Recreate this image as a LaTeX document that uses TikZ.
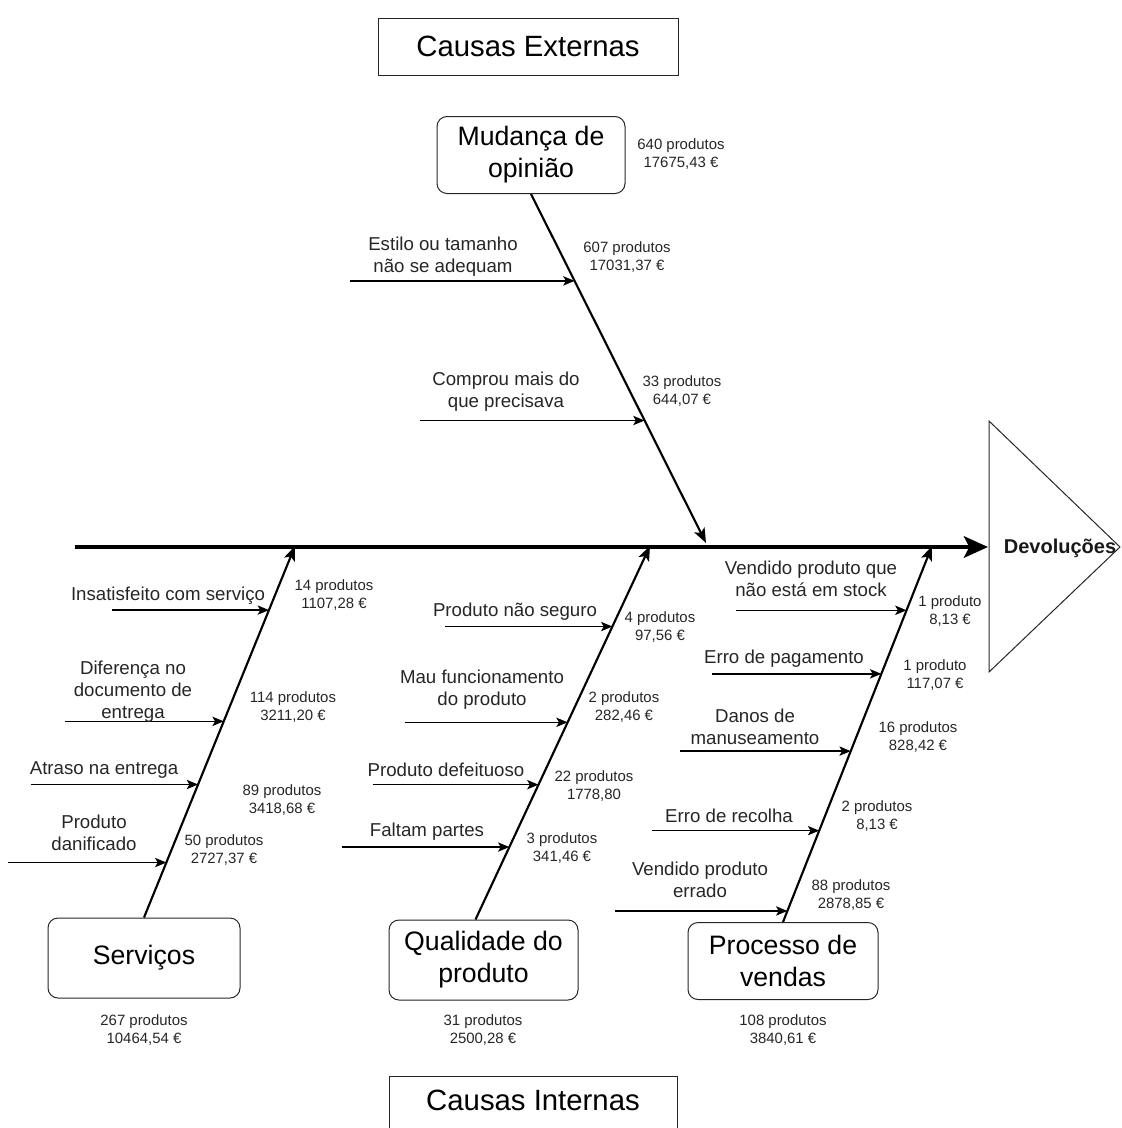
\documentclass[tikz,border=0pt]{standalone}
\usepackage{fontspec}
\setmainfont{Liberation Sans}
\usetikzlibrary{arrows.meta, calc}

\tikzset{
	grupo/.style = {draw=black!85, line width=0.75pt, rounded corners=7.5pt,
		align=center, inner sep=0pt, font=\fontsize{20}{24}\selectfont},
	causa/.style = {align=center, inner sep=0pt, text=black!85,
		font=\fontsize{14}{16.5}\selectfont},
	valor/.style = {align=center, inner sep=0pt, text=black!85,
		font=\fontsize{11.2}{13.5}\selectfont},
	ramo/.style = {line width=1pt, -{Stealth[length=8.5pt, width=7pt, inset=2pt]}},
	osso/.style = {line width=1.6pt, -{Stealth[length=11pt, width=8.5pt, inset=2.5pt]}},
	espinha/.style = {line width=3.3pt, -{Stealth[length=18pt, width=16pt, inset=4pt]}}
}

\begin{document}
\begin{tikzpicture}[x=0.75pt, y=-0.75pt]
\useasboundingbox (0,0) rectangle (1121,1128);

\node[grupo, rounded corners=0pt, minimum width=225pt, minimum height=42.75pt,
	font=\fontsize{22}{26}\selectfont]
	(ext) at (528,46.5) {Causas Externas};
\node[grupo, rounded corners=0pt, minimum width=216pt, minimum height=42pt]
	(int) at (533,1104) {};
\node[causa, text=black, font=\fontsize{22}{26}\selectfont]
	(intt) at (533,1100) {Causas Internas};

\node[grupo, minimum width=141pt, minimum height=57.75pt]
	(mud) at (531,155) {Mudança de\\opinião};
\node[grupo, minimum width=144pt, minimum height=60pt]
	(serv) at (144,958) {Serviços};
\node[grupo, minimum width=141.75pt, minimum height=60pt]
	(qual) at (483.5,960) {Qualidade do\\produto};
\node[grupo, minimum width=142.5pt, minimum height=57.75pt]
	(proc) at (783,961) {Processo de\\vendas};

\coordinate (cauda) at (75,547);
\coordinate (cabeca) at (988,547);
\draw[line width=0.75pt, black!85] (989,421) -- (1120,547) -- (989,672) -- cycle;
\node[causa, text=black!90, font=\bfseries\fontsize{15}{18}\selectfont]
	(dev) at (1060,548) {Devoluções};
\draw[espinha] (cauda) -- (cabeca);

\coordinate (pM) at (706,543);
\coordinate (pS) at (295,546);
\coordinate (pQ) at (650,546);
\coordinate (pP) at (932,546);

\draw[osso] (mud.south) -- (pM)
	coordinate[pos=.249] (m1) coordinate[pos=.649] (m2);
\draw[osso] (serv.north) -- (pS)
	coordinate[pos=.8275] (s1) coordinate[pos=.528] (s2)
	coordinate[pos=.358] (s3) coordinate[pos=.148] (s4);
\draw[osso] ($(qual.north)+(-8,0)$) -- (pQ)
	coordinate[pos=.7844] (q1) coordinate[pos=.528] (q2)
	coordinate[pos=.361] (q3) coordinate[pos=.194] (q4);
\draw[osso] (proc.north) -- (pP)
	coordinate[pos=.829] (p1) coordinate[pos=.66] (p2)
	coordinate[pos=.4545] (p3) coordinate[pos=.243] (p4)
	coordinate[pos=.0294] (p5);

\draw[ramo] ($(m1)+(-225,0)$) -- (m1);
\draw[ramo] ($(m2)+(-225,0)$) -- (m2);
\draw[ramo] ($(s1)+(-157,0)$) -- (s1);
\draw[ramo] ($(s2)+(-159,0)$) -- (s2);
\draw[ramo] ($(s3)+(-167,0)$) -- (s3);
\draw[ramo] ($(s4)+(-158,0)$) -- (s4);
\draw[ramo] ($(q1)+(-167,0)$) -- (q1);
\draw[ramo] ($(q2)+(-163,0)$) -- (q2);
\draw[ramo] ($(q3)+(-165,0)$) -- (q3);
\draw[ramo] ($(q4)+(-167,0)$) -- (q4);
\draw[ramo] ($(p1)+(-171,0)$) -- (p1);
\draw[ramo] ($(p2)+(-169,0)$) -- (p2);
\draw[ramo] ($(p3)+(-171,0)$) -- (p3);
\draw[ramo] ($(p4)+(-167,0)$) -- (p4);
\draw[ramo] ($(p5)+(-172,0)$) -- (p5);

\node[causa] (cm1) at (443,257) {Estilo ou tamanho\\não se adequam};
\node[causa] (cm2) at (506,392) {Comprou mais do\\que precisava};
\node[causa] (cs1) at (168,596) {Insatisfeito com serviço};
\node[causa] (cs2) at (133,692) {Diferença no\\documento de\\entrega};
\node[causa] (cs3) at (104,770) {Atraso na entrega};
\node[causa] (cs4) at (94,833) {Produto\\danificado};
\node[causa] (cq1) at (515,612) {Produto não seguro};
\node[causa] (cq2) at (482,690) {Mau funcionamento\\do produto};
\node[causa] (cq3) at (446,770) {Produto defeituoso};
\node[causa] (cq4) at (427,832) {Faltam partes};
\node[causa] (cp1) at (811,579) {Vendido produto que\\não está em stock};
\node[causa] (cp2) at (784,659) {Erro de pagamento};
\node[causa] (cp3) at (755,727) {Danos de\\manuseamento};
\node[causa] (cp4) at (729,816) {Erro de recolha};
\node[causa] (cp5) at (700,880) {Vendido produto\\errado};

\node[valor] (vmud) at (681,154) {640 produtos\\17675,43 €};
\node[valor] (vm1) at (627,257) {607 produtos\\17031,37 €};
\node[valor] (vm2) at (682,391) {33 produtos\\644,07 €};
\node[valor] (vs1) at (334,595) {14 produtos\\1107,28 €};
\node[valor] (vs2) at (293,707) {114 produtos\\3211,20 €};
\node[valor] (vs3) at (282,800) {89 produtos\\3418,68 €};
\node[valor] (vs4) at (224,850) {50 produtos\\2727,37 €};
\node[valor] (vq1) at (660,627) {4 produtos\\97,56 €};
\node[valor] (vq2) at (624,707) {2 produtos\\282,46 €};
\node[valor] (vq3) at (594,786) {22 produtos\\1778,80};
\node[valor] (vq4) at (562,848) {3 produtos\\341,46 €};
\node[valor] (vp1) at (950,611) {1 produto\\8,13 €};
\node[valor] (vp2) at (935,675) {1 produto\\117,07 €};
\node[valor] (vp3) at (918,737) {16 produtos\\828,42 €};
\node[valor] (vp4) at (877,816) {2 produtos\\8,13 €};
\node[valor] (vp5) at (851,895) {88 produtos\\2878,85 €};
\node[valor] (vserv) at (144,1030) {267 produtos\\10464,54 €};
\node[valor] (vqual) at (483,1030) {31 produtos\\2500,28 €};
\node[valor] (vproc) at (783,1030) {108 produtos\\3840,61 €};

\end{tikzpicture}
\end{document}
